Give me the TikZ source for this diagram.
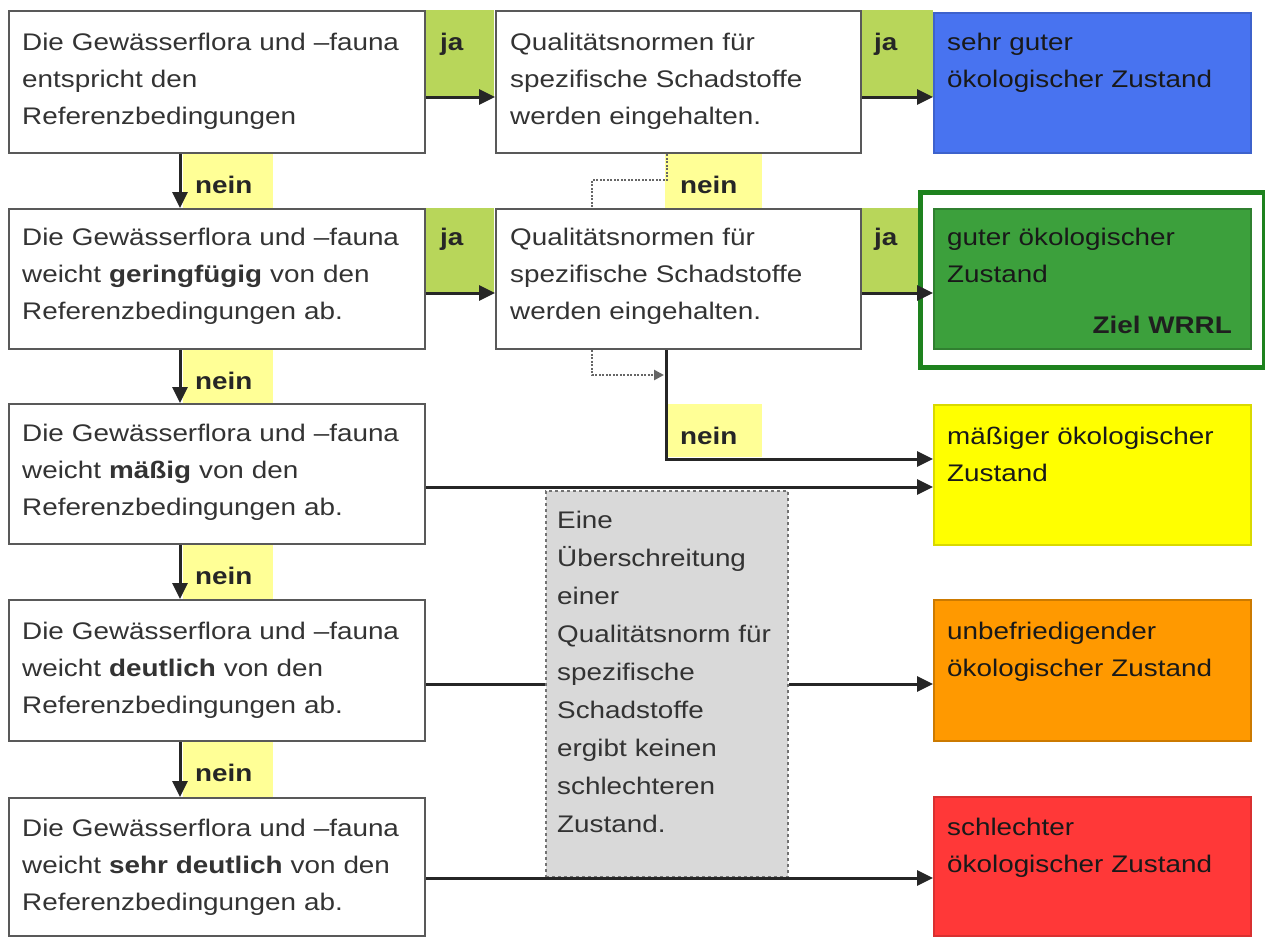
\documentclass[tikz,border=0pt]{standalone}
\usepackage{fontspec}
\setmainfont{Liberation Sans}[FakeStretch=1.16]
\usetikzlibrary{arrows.meta}
\definecolor{cblue}{RGB}{72,115,240}
\definecolor{cgreen}{RGB}{60,160,60}
\definecolor{cframe}{RGB}{30,130,30}
\definecolor{cyellow}{RGB}{255,255,0}
\definecolor{corange}{RGB}{255,153,0}
\definecolor{cred}{RGB}{255,56,56}
\definecolor{jagreen}{RGB}{184,214,90}
\definecolor{neinyel}{RGB}{255,255,150}
\definecolor{cgray}{RGB}{217,217,217}
\tikzset{
  wbox/.style={draw=black!65, line width=2.4pt, fill=white, inner sep=0pt, anchor=north west},
  cbox/.style={line width=2pt, inner sep=0pt, anchor=north west},
  band/.style={inner sep=0pt, anchor=north west},
  txt/.style={font=\fontsize{24}{37}\selectfont, align=left, text width=420pt, inner sep=0pt, anchor=base west, text=black!80},
  ctxt/.style={txt, text=black!90},
  gtxt/.style={font=\fontsize{24}{38}\selectfont, align=left, text width=230pt, inner sep=0pt, anchor=base west, text=black!80},
  lbl/.style={font=\fontsize{24}{30}\selectfont\bfseries, inner sep=0pt, anchor=base west, text=black!85},
  arr/.style={line width=3pt, draw=black!85, -{Triangle[length=16pt,width=15pt]}},
  plain/.style={line width=3pt, draw=black!85},
  dotl/.style={line width=2.6pt, draw=black!60, dash pattern=on 2pt off 1.5pt}
}
\begin{document}
\begin{tikzpicture}[x=1pt,y=-1pt]
\useasboundingbox (0,0) rectangle (1265,938);
% bands
\node[band, fill=jagreen, minimum width=70pt, minimum height=87pt] (ja1) at (424,10) {};
\node[band, fill=jagreen, minimum width=70pt, minimum height=85pt] (ja2) at (424,208) {};
\node[band, fill=jagreen, minimum width=73pt, minimum height=87pt] (ja3) at (860,10) {};
\node[band, fill=jagreen, minimum width=58pt, minimum height=85pt] (ja4) at (860,208) {};
\node[band, fill=neinyel, minimum width=90pt, minimum height=56pt] (n1) at (183,152) {};
\node[band, fill=neinyel, minimum width=90pt, minimum height=55pt] (n2) at (183,348) {};
\node[band, fill=neinyel, minimum width=90pt, minimum height=56pt] (n3) at (183,543) {};
\node[band, fill=neinyel, minimum width=90pt, minimum height=57pt] (n4) at (183,740) {};
\node[band, fill=neinyel, minimum width=97pt, minimum height=56pt] (n5) at (665,152) {};
\node[band, fill=neinyel, minimum width=95pt, minimum height=53pt] (n6) at (667,404) {};
% left boxes
\node[wbox, minimum width=416pt, minimum height=142pt] (b1) at (8,10) {};
\node[wbox, minimum width=416pt, minimum height=140pt] (b2) at (8,208) {};
\node[wbox, minimum width=416pt, minimum height=140pt] (b3) at (8,403) {};
\node[wbox, minimum width=416pt, minimum height=141pt] (b4) at (8,599) {};
\node[wbox, minimum width=416pt, minimum height=138pt] (b5) at (8,797) {};
% middle boxes
\node[wbox, minimum width=365pt, minimum height=142pt] (m1) at (495,10) {};
\node[wbox, minimum width=365pt, minimum height=140pt] (m2) at (495,208) {};
% gray box
\node[band, fill=cgray, draw=black!55, line width=2pt, dash pattern=on 3pt off 3pt, minimum width=242pt, minimum height=386pt] (g) at (545,490) {};
% right boxes
\node[cbox, fill=cblue, draw=cblue!85!black, minimum width=317pt, minimum height=140pt] (r1) at (933,12) {};
\node[band, draw=cframe, line width=5pt, minimum width=344pt, minimum height=175pt] (fr) at (918,190) {};
\node[cbox, fill=cgreen, draw=cgreen!80!black, minimum width=317pt, minimum height=140pt] (r2) at (933,208) {};
\node[cbox, fill=cyellow, draw=cyellow!85!black, minimum width=317pt, minimum height=140pt] (r3) at (933,404) {};
\node[cbox, fill=corange, draw=corange!80!black, minimum width=317pt, minimum height=141pt] (r4) at (933,599) {};
\node[cbox, fill=cred, draw=cred!85!black, minimum width=317pt, minimum height=139pt] (r5) at (933,796) {};
% texts
\node[txt] (tb1) at (22,50) {Die Gewässerflora und –fauna\\entspricht den\\Referenzbedingungen};
\node[txt] (tb2) at (22,245) {Die Gewässerflora und –fauna\\weicht \textbf{geringfügig} von den\\Referenzbedingungen ab.};
\node[txt] (tb3) at (22,441) {Die Gewässerflora und –fauna\\weicht \textbf{mäßig} von den\\Referenzbedingungen ab.};
\node[txt] (tb4) at (22,639) {Die Gewässerflora und –fauna\\weicht \textbf{deutlich} von den\\Referenzbedingungen ab.};
\node[txt] (tb5) at (22,836) {Die Gewässerflora und –fauna\\weicht \textbf{sehr deutlich} von den\\Referenzbedingungen ab.};
\node[txt] (tm1) at (510,50) {Qualitätsnormen für\\spezifische Schadstoffe\\werden eingehalten.};
\node[txt] (tm2) at (510,245) {Qualitätsnormen für\\spezifische Schadstoffe\\werden eingehalten.};
\node[gtxt] (tg) at (557,528) {Eine\\Überschreitung\\einer\\Qualitätsnorm für\\spezifische\\Schadstoffe\\ergibt keinen\\schlechteren\\Zustand.};
\node[ctxt] (tr1) at (947,50) {sehr guter\\ökologischer Zustand};
\node[ctxt] (tr2) at (947,245) {guter ökologischer\\Zustand};
\node[lbl, anchor=base east, text=black!88] (ziel) at (1232,333) {Ziel WRRL};
\node[ctxt] (tr3) at (947,444) {mäßiger ökologischer\\Zustand};
\node[ctxt] (tr4) at (947,639) {unbefriedigender\\ökologischer Zustand};
\node[ctxt] (tr5) at (947,835) {schlechter\\ökologischer Zustand};
% labels
\node[lbl] (lj1) at (440,50) {ja};
\node[lbl] (lj2) at (440,245) {ja};
\node[lbl] (lj3) at (874,50) {ja};
\node[lbl] (lj4) at (874,245) {ja};
\node[lbl] (ln1) at (195,193) {nein};
\node[lbl] (ln2) at (195,389) {nein};
\node[lbl] (ln3) at (195,584) {nein};
\node[lbl] (ln4) at (195,781) {nein};
\node[lbl] (ln5) at (680,193) {nein};
\node[lbl] (ln6) at (680,444) {nein};
% helper coordinates
\coordinate (cx) at (180,0);
\coordinate (y1) at (0,97);
\coordinate (y2) at (0,293);
\coordinate (y3) at (0,487);
\coordinate (y4) at (0,684);
\coordinate (y5) at (0,878);
\coordinate (dA) at (667,180);
\coordinate (dB) at (592,180);
\coordinate (dC) at (592,375);
\coordinate (dD) at (664,375);
\coordinate (sA) at (666,459);
% connectors
\draw[arr] (b1.south -| cx) -- (b2.north -| cx);
\draw[arr] (b2.south -| cx) -- (b3.north -| cx);
\draw[arr] (b3.south -| cx) -- (b4.north -| cx);
\draw[arr] (b4.south -| cx) -- (b5.north -| cx);
\draw[arr] (b1.east |- y1) -- (m1.west |- y1);
\draw[arr] (b2.east |- y2) -- (m2.west |- y2);
\draw[arr] (m1.east |- y1) -- (r1.west |- y1);
\draw[arr] (m2.east |- y2) -- (r2.west |- y2);
\draw[dotl] (m1.south -| dA) -- (dA) -- (dB) -- (m2.north -| dB);
\draw[dotl, -{Triangle[length=10pt,width=10pt]}] (m2.south -| dC) -- (dC) -- (dD);
\draw[arr] (m2.south -| sA) -- (sA) -- (r3.west |- sA);
\draw[arr] (b3.east |- y3) -- (r3.west |- y3);
\draw[plain] (b4.east |- y4) -- (g.west |- y4);
\draw[arr] (g.east |- y4) -- (r4.west |- y4);
\draw[arr] (b5.east |- y5) -- (r5.west |- y5);
\end{tikzpicture}
\end{document}
